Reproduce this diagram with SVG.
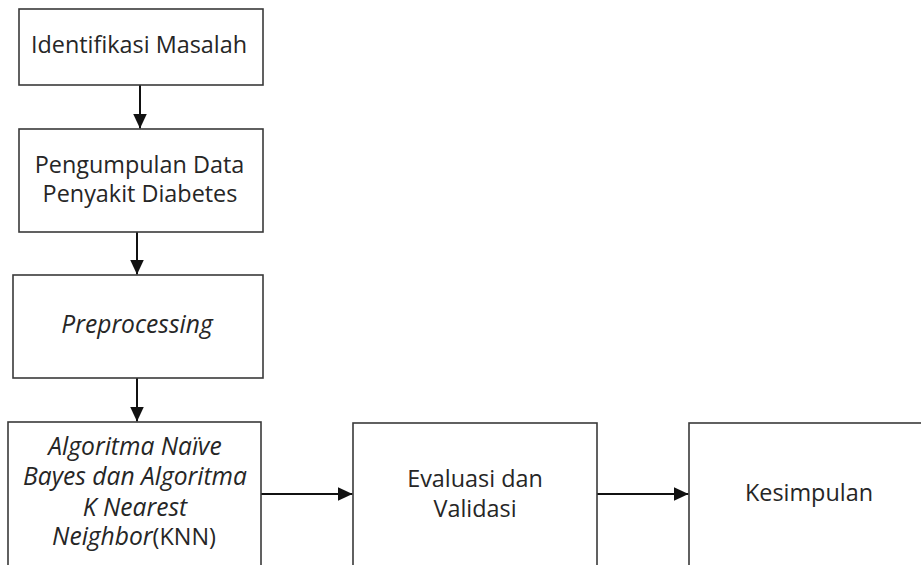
<svg xmlns="http://www.w3.org/2000/svg" width="921" height="565" viewBox="0 0 921 565">
  <style>
    .box { fill: #ffffff; stroke: #3a3a3a; stroke-width: 1.6; }
    .lbl { font-family: "Open Sans", "Noto Sans", sans-serif; font-size: 23.4px; fill: #262626; text-anchor: middle; }
    .it { font-style: italic; font-size: 24.6px; }
    .conn { stroke: #111111; stroke-width: 2; fill: none; marker-end: url(#arrow); }
  </style>
  <defs>
    <marker id="arrow" markerUnits="userSpaceOnUse" markerWidth="16" markerHeight="14" refX="15" refY="7" orient="auto">
      <path d="M0,0 L15,7 L0,14 Z" fill="#111111"/>
    </marker>
  </defs>
  <rect width="921" height="565" fill="#ffffff"/>
  <g id="connectors">
    <line class="conn" x1="140" y1="85" x2="140" y2="128.5"/>
    <line class="conn" x1="137" y1="232" x2="137" y2="274.5"/>
    <line class="conn" x1="137" y1="378" x2="137" y2="421.5"/>
    <line class="conn" x1="261" y1="494" x2="352.5" y2="494"/>
    <line class="conn" x1="597" y1="494" x2="688.5" y2="494"/>
  </g>
  <g id="n1">
    <rect class="box" x="19" y="9" width="244" height="76"/>
    <text class="lbl" x="139" y="53">Identifikasi Masalah</text>
  </g>
  <g id="n2">
    <rect class="box" x="19" y="129" width="244" height="103"/>
    <text class="lbl" x="139.5" y="173">Pengumpulan Data</text>
    <text class="lbl" x="140" y="202">Penyakit Diabetes</text>
  </g>
  <g id="n3">
    <rect class="box" x="13" y="275" width="250" height="103"/>
    <text class="lbl it" x="137" y="333">Preprocessing</text>
  </g>
  <g id="n4">
    <rect class="box" x="8" y="422" width="253" height="180"/>
    <text class="lbl it" x="135" y="455">Algoritma Naïve</text>
    <text class="lbl it" x="135" y="485">Bayes dan Algoritma</text>
    <text class="lbl it" x="135" y="516">K Nearest</text>
    <text class="lbl" x="134" y="545"><tspan class="it">Neighbor</tspan>(KNN)</text>
  </g>
  <g id="n5">
    <rect class="box" x="353" y="423" width="244" height="180"/>
    <text class="lbl" x="475" y="487">Evaluasi dan</text>
    <text class="lbl" x="475" y="517">Validasi</text>
  </g>
  <g id="n6">
    <rect class="box" x="689" y="423" width="260" height="180"/>
    <text class="lbl" x="809" y="501">Kesimpulan</text>
  </g>
</svg>
